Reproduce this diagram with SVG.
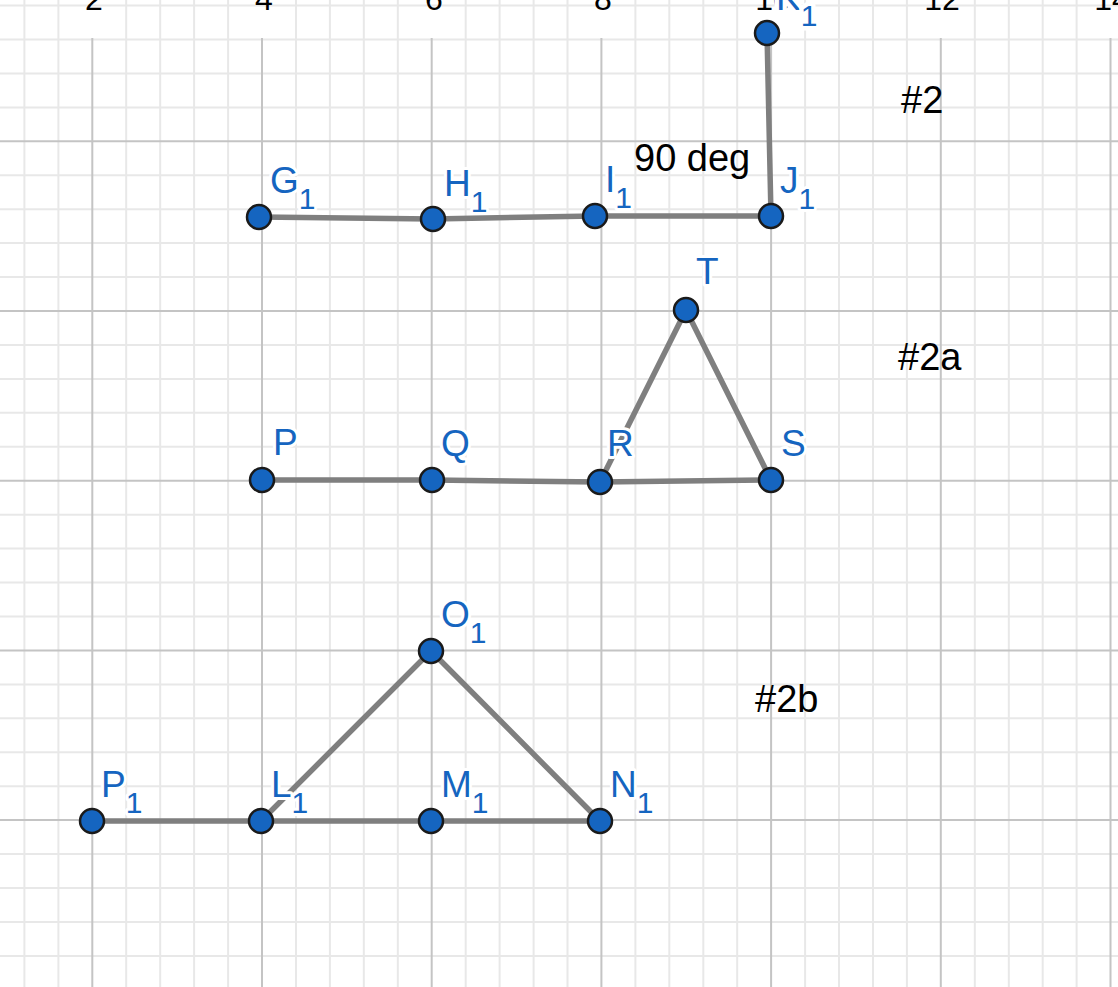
<svg xmlns="http://www.w3.org/2000/svg" width="1118" height="987" viewBox="0 0 1118 987">
<style>
.minor{stroke:#e8e8e8;stroke-width:2}
.major{stroke:#c4c4c4;stroke-width:2}
.axis{font-family:"Liberation Sans",Arial,sans-serif;font-size:32px;fill:#000;text-anchor:middle}
.seg{stroke:#7f7f7f;stroke-width:5.5;stroke-linecap:round;fill:none}
.pt{fill:#1565c0;stroke:#1a1a1a;stroke-width:2.5}
.lbl{font-family:"Liberation Sans",Arial,sans-serif;font-size:37px;fill:#1565c0;stroke:#fff;stroke-width:6;stroke-linejoin:round;paint-order:stroke}
.sub{font-size:30px}
.txt{font-family:"Liberation Sans",Arial,sans-serif;font-size:38px;fill:#000}
</style>
<rect width="1118" height="987" fill="#fff"/>
<g id="grid">
<g class="minor">
<line x1="24.4" y1="0" x2="24.4" y2="987"/><line x1="58.4" y1="0" x2="58.4" y2="987"/>
<line x1="126.2" y1="0" x2="126.2" y2="987"/><line x1="160.2" y1="0" x2="160.2" y2="987"/><line x1="194.1" y1="0" x2="194.1" y2="987"/><line x1="228.1" y1="0" x2="228.1" y2="987"/>
<line x1="296" y1="0" x2="296" y2="987"/><line x1="329.9" y1="0" x2="329.9" y2="987"/><line x1="363.8" y1="0" x2="363.8" y2="987"/><line x1="397.8" y1="0" x2="397.8" y2="987"/>
<line x1="465.7" y1="0" x2="465.7" y2="987"/><line x1="499.6" y1="0" x2="499.6" y2="987"/><line x1="533.6" y1="0" x2="533.6" y2="987"/><line x1="567.5" y1="0" x2="567.5" y2="987"/>
<line x1="635.4" y1="0" x2="635.4" y2="987"/><line x1="669.3" y1="0" x2="669.3" y2="987"/><line x1="703.3" y1="0" x2="703.3" y2="987"/><line x1="737.2" y1="0" x2="737.2" y2="987"/>
<line x1="805.1" y1="0" x2="805.1" y2="987"/><line x1="839" y1="0" x2="839" y2="987"/><line x1="873" y1="0" x2="873" y2="987"/><line x1="906.9" y1="0" x2="906.9" y2="987"/>
<line x1="974.8" y1="0" x2="974.8" y2="987"/><line x1="1008.8" y1="0" x2="1008.8" y2="987"/><line x1="1042.7" y1="0" x2="1042.7" y2="987"/><line x1="1076.6" y1="0" x2="1076.6" y2="987"/>
<line x1="0" y1="5.5" x2="1118" y2="5.5"/><line x1="0" y1="39.5" x2="1118" y2="39.5"/><line x1="0" y1="73.4" x2="1118" y2="73.4"/><line x1="0" y1="107.4" x2="1118" y2="107.4"/>
<line x1="0" y1="175.2" x2="1118" y2="175.2"/><line x1="0" y1="209.2" x2="1118" y2="209.2"/><line x1="0" y1="243.1" x2="1118" y2="243.1"/><line x1="0" y1="277.1" x2="1118" y2="277.1"/>
<line x1="0" y1="345" x2="1118" y2="345"/><line x1="0" y1="378.9" x2="1118" y2="378.9"/><line x1="0" y1="412.8" x2="1118" y2="412.8"/><line x1="0" y1="446.8" x2="1118" y2="446.8"/>
<line x1="0" y1="514.7" x2="1118" y2="514.7"/><line x1="0" y1="548.6" x2="1118" y2="548.6"/><line x1="0" y1="582.6" x2="1118" y2="582.6"/><line x1="0" y1="616.5" x2="1118" y2="616.5"/>
<line x1="0" y1="684.4" x2="1118" y2="684.4"/><line x1="0" y1="718.3" x2="1118" y2="718.3"/><line x1="0" y1="752.3" x2="1118" y2="752.3"/><line x1="0" y1="786.2" x2="1118" y2="786.2"/>
<line x1="0" y1="854.1" x2="1118" y2="854.1"/><line x1="0" y1="888" x2="1118" y2="888"/><line x1="0" y1="922" x2="1118" y2="922"/><line x1="0" y1="955.9" x2="1118" y2="955.9"/>
</g>
<g class="major">
<line x1="92.3" y1="38" x2="92.3" y2="987"/><line x1="262" y1="38" x2="262" y2="987"/><line x1="431.7" y1="38" x2="431.7" y2="987"/><line x1="601.4" y1="38" x2="601.4" y2="987"/><line x1="771.1" y1="38" x2="771.1" y2="987"/><line x1="940.8" y1="38" x2="940.8" y2="987"/><line x1="1110.5" y1="38" x2="1110.5" y2="987"/>
<line x1="0" y1="141.3" x2="1118" y2="141.3"/><line x1="0" y1="311" x2="1118" y2="311"/><line x1="0" y1="480.7" x2="1118" y2="480.7"/><line x1="0" y1="650.4" x2="1118" y2="650.4"/><line x1="0" y1="820.1" x2="1118" y2="820.1"/>
</g>
<g class="axis">
<text x="94" y="10">2</text><text x="264" y="10">4</text><text x="434" y="10">6</text><text x="603" y="10">8</text><text x="773" y="10">10</text><text x="942" y="10">12</text><text x="1112" y="10">14</text>
</g>
</g>
<g id="connectors" class="seg">
<line x1="259" y1="217" x2="433" y2="219"/>
<line x1="433" y1="219" x2="595" y2="216"/>
<line x1="595" y1="216" x2="771" y2="216"/>
<line x1="771" y1="216" x2="767" y2="33"/>
<line x1="262" y1="480" x2="432" y2="480"/>
<line x1="432" y1="480" x2="600" y2="482"/>
<line x1="600" y1="482" x2="771" y2="480"/>
<line x1="600" y1="482" x2="686" y2="310"/>
<line x1="686" y1="310" x2="771" y2="480"/>
<line x1="92" y1="821" x2="261" y2="821"/>
<line x1="261" y1="821" x2="431" y2="821"/>
<line x1="431" y1="821" x2="600" y2="821"/>
<line x1="261" y1="821" x2="431" y2="651"/>
<line x1="431" y1="651" x2="600" y2="821"/>
</g>
<g id="G1"><circle class="pt" cx="259" cy="217" r="12"/><text class="lbl" x="270" y="193">G<tspan class="sub" dy="16">1</tspan></text></g>
<g id="H1"><circle class="pt" cx="433" cy="219" r="12"/><text class="lbl" x="444" y="196">H<tspan class="sub" dy="16">1</tspan></text></g>
<g id="I1"><circle class="pt" cx="595" cy="216" r="12"/><text class="lbl" x="605" y="192">I<tspan class="sub" dy="16">1</tspan></text></g>
<g id="J1"><circle class="pt" cx="771" cy="216" r="12"/><text class="lbl" x="780" y="193">J<tspan class="sub" dy="16">1</tspan></text></g>
<g id="K1"><circle class="pt" cx="767" cy="33" r="12"/><text class="lbl" x="776" y="10" style="stroke-width:9">K<tspan class="sub" dy="16">1</tspan></text></g>
<g id="T"><circle class="pt" cx="686" cy="310" r="12"/><text class="lbl" x="696" y="284">T</text></g>
<g id="P"><circle class="pt" cx="262" cy="480" r="12"/><text class="lbl" x="273" y="455">P</text></g>
<g id="Q"><circle class="pt" cx="432" cy="480" r="12"/><text class="lbl" x="441" y="456">Q</text></g>
<g id="R"><circle class="pt" cx="600" cy="482" r="12"/><text class="lbl" x="607" y="456">R</text></g>
<g id="S"><circle class="pt" cx="771" cy="480" r="12"/><text class="lbl" x="781" y="456">S</text></g>
<g id="O1"><circle class="pt" cx="431" cy="651" r="12"/><text class="lbl" x="441" y="627">O<tspan class="sub" dy="16">1</tspan></text></g>
<g id="P1"><circle class="pt" cx="92" cy="821" r="12"/><text class="lbl" x="101" y="797">P<tspan class="sub" dy="16">1</tspan></text></g>
<g id="L1"><circle class="pt" cx="261" cy="821" r="12"/><text class="lbl" x="271" y="797">L<tspan class="sub" dy="16">1</tspan></text></g>
<g id="M1"><circle class="pt" cx="431" cy="821" r="12"/><text class="lbl" x="441" y="797">M<tspan class="sub" dy="16">1</tspan></text></g>
<g id="N1"><circle class="pt" cx="600" cy="821" r="12"/><text class="lbl" x="610" y="797">N<tspan class="sub" dy="16">1</tspan></text></g>
<g id="labels">
<text class="txt" x="634" y="171">90 deg</text>
<text class="txt" x="901" y="113">#2</text>
<text class="txt" x="898" y="370">#2a</text>
<text class="txt" x="755" y="712">#2b</text>
</g>
</svg>
